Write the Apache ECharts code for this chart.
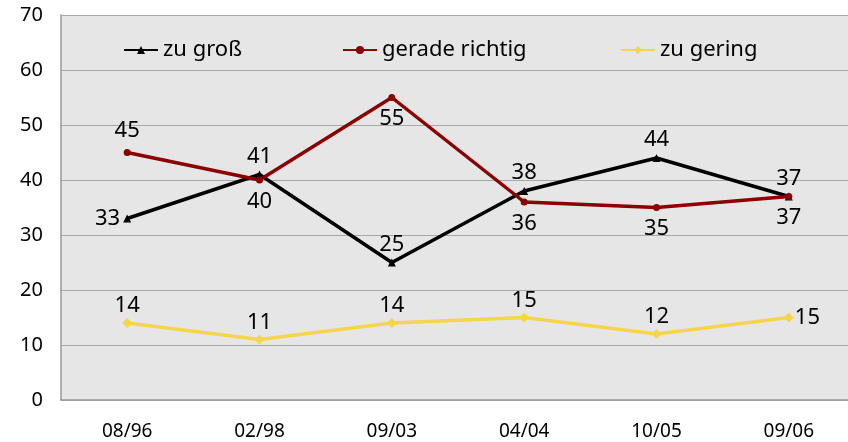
<!DOCTYPE html>
<html>
<head>
<meta charset="utf-8">
<script src="https://cdn.jsdelivr.net/npm/echarts@6/dist/echarts.min.js"></script>
<style>
html,body{margin:0;padding:0;background:#fff;overflow:hidden;}
#chart{width:855px;height:442px;}
</style>
</head>
<body>
<div id="chart"></div>
<script>
var categories = ['08/96', '02/98', '09/03', '04/04', '10/05', '09/06'];
var zuGross = [33, 41, 25, 38, 44, 37];
var geradeRichtig = [45, 40, 55, 36, 35, 37];
var zuGering = [14, 11, 14, 15, 12, 15];
var yTicks = [0, 10, 20, 30, 40, 50, 60, 70];

var font = '"Noto Sans", "Open Sans", sans-serif';

// label position per point
var grossPos = ['left', 'top', 'top', 'top', 'top', 'top'];
var richtigPos = ['top', 'bottom', 'bottom', 'bottom', 'bottom', 'bottom'];
var geringPos = ['top', 'top', 'top', 'top', 'top', 'right'];

function withLabels(values, pos) {
    return values.map(function (v, i) {
        return { value: v, label: { position: pos[i] } };
    });
}

// plot runs slightly past the right edge of the window, like the original
var chart = echarts.init(document.getElementById('chart'));
var legendBase = {
    top: 34,
    itemWidth: 34,
    itemHeight: 10,
    itemGap: 6,
    textStyle: { fontFamily: font, fontSize: 22, color: '#000' }
};
var option = {
    animation: false,
    grid: { left: 61, right: 0, top: 15, bottom: 42 },
    legend: [
        Object.assign({ left: 118, data: ['zu groß'] }, legendBase),
        Object.assign({ left: 337, data: ['gerade richtig'] }, legendBase),
        Object.assign({ left: 615, data: ['zu gering'] }, legendBase)
    ],
    xAxis: {
        type: 'category',
        data: categories,
        boundaryGap: true,
        axisLine: { lineStyle: { color: '#9a9a9a', width: 1.5 } },
        axisTick: { show: false },
        axisLabel: { fontFamily: font, fontSize: 19, color: '#000', margin: 22 }
    },
    yAxis: {
        type: 'value',
        min: yTicks[0],
        max: yTicks[yTicks.length - 1],
        interval: 10,
        axisLine: { show: true, lineStyle: { color: '#9a9a9a', width: 1.5 } },
        axisTick: { show: false },
        splitLine: { lineStyle: { color: '#a8a8a8', width: 1 } },
        splitArea: { show: true, areaStyle: { color: ['#e6e6e6', '#e6e6e6'] } },
        axisLabel: { fontFamily: font, fontSize: 20, color: '#000', margin: 18 }
    },
    series: [
        {
            name: 'zu groß',
            type: 'line',
            data: withLabels(zuGross, grossPos),
            symbol: 'triangle',
            symbolSize: 8,
            itemStyle: { color: '#000' },
            lineStyle: { color: '#000', width: 3.5 },
            label: { show: true, fontFamily: font, fontSize: 22, color: '#000', distance: 3 }
        },
        {
            name: 'gerade richtig',
            type: 'line',
            data: withLabels(geradeRichtig, richtigPos),
            symbol: 'circle',
            symbolSize: 7,
            itemStyle: { color: '#8b0000' },
            lineStyle: { color: '#8b0000', width: 3.5 },
            label: { show: true, fontFamily: font, fontSize: 22, color: '#000', distance: 7 }
        },
        {
            name: 'zu gering',
            type: 'line',
            data: withLabels(zuGering, geringPos),
            symbol: 'diamond',
            symbolSize: 10,
            itemStyle: { color: '#f5d54c' },
            lineStyle: { color: '#f5d54c', width: 3.5 },
            label: { show: true, fontFamily: font, fontSize: 22, color: '#000', distance: 1 }
        }
    ]
};
chart.setOption(option);
</script>
</body>
</html>
